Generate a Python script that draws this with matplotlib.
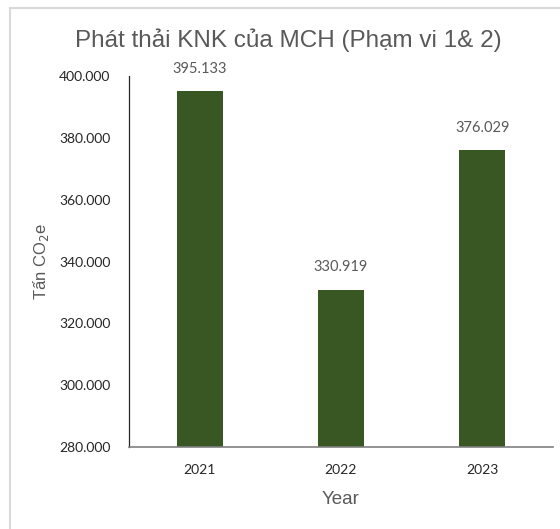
import matplotlib
matplotlib.use("Agg")
import matplotlib.pyplot as plt
from matplotlib.lines import Line2D
from matplotlib.ticker import FuncFormatter

# data
years = ["2021", "2022", "2023"]
emissions = [395133, 330919, 376029]
y_ticks = [280000, 300000, 320000, 340000, 360000, 380000, 400000]


def dot_thousands(v, pos=None):
    # Vietnamese style: dot as thousands separator
    return "{:,.0f}".format(v).replace(",", ".")


fig = plt.figure(figsize=(5.6, 5.29), dpi=100)
ax = fig.add_axes([0.2304, 0.155, 0.757, 0.7013])

bar_color = "#385723"
gray = "#595959"

x = range(len(years))
bars = ax.bar(x, emissions, width=0.325, color=bar_color)

ax.set_xlim(-0.5, 2.5)
ax.set_ylim(y_ticks[0], y_ticks[-1])
ax.set_yticks(y_ticks)
ax.yaxis.set_major_formatter(FuncFormatter(dot_thousands))
ax.set_xticks(list(x))
ax.set_xticklabels(years)

# value labels above the bars
for b, v in zip(bars, emissions):
    ax.annotate(dot_thousands(v), (b.get_x() + b.get_width() / 2, v),
                xytext=(0, 11), textcoords="offset points",
                ha="center", va="bottom", fontsize=10.5, color=gray,
                family="Lato")

ax.tick_params(axis="both", length=0, labelsize=10, labelcolor="#262626")
ax.tick_params(axis="y", pad=13.5)
ax.tick_params(axis="x", pad=12)
for lab in ax.get_xticklabels() + ax.get_yticklabels():
    lab.set_family("Lato")

for side in ("top", "right"):
    ax.spines[side].set_visible(False)
ax.spines["left"].set_color("#262626")
ax.spines["left"].set_linewidth(0.9)
ax.spines["bottom"].set_color("#808080")
ax.spines["bottom"].set_linewidth(1.2)

ax.set_xlabel("Year", fontsize=13.5, color=gray, family="Liberation Sans", labelpad=11)
fig.text(0.073, 0.505, "Tấn CO$_2$e", rotation=90, ha="center", va="center",
         fontsize=12, color=gray, family="Liberation Sans")

fig.text(0.514, 0.924, "Phát thải KNK của MCH (Phạm vi 1& 2)", ha="center",
         va="center", fontsize=17.5, color=gray, family="Liberation Sans")

# light frame of the chart area (top and left edges visible)
fig.add_artist(Line2D([9.5 / 560, 1.0], [1 - 7.5 / 529] * 2, color="#D9D9D9", lw=1.5,
                      transform=fig.transFigure))
fig.add_artist(Line2D([9.5 / 560] * 2, [0, 1 - 7.5 / 529], color="#D9D9D9", lw=1.5,
                      transform=fig.transFigure))

fig.savefig("out.png", dpi=100)
